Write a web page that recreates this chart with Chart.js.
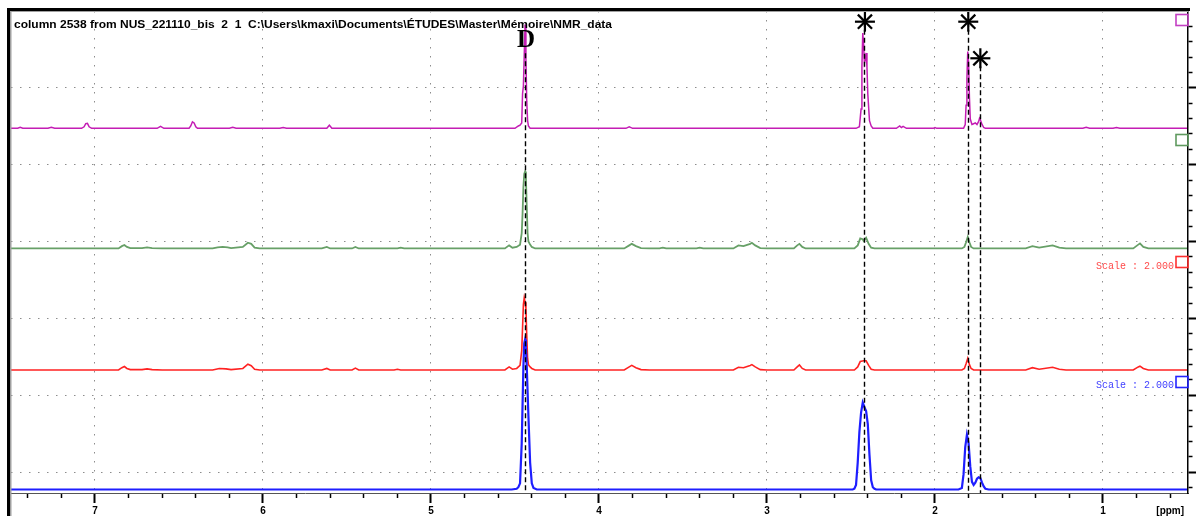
<!DOCTYPE html>
<html>
<head>
<meta charset="utf-8">
<script src="https://cdn.jsdelivr.net/npm/chart.js@4.4.1/dist/chart.umd.min.js"></script>
<style>
  html, body { margin: 0; padding: 0; background: #fff; }
  canvas { display: block; }
</style>
</head>
<body>
<canvas id="c" width="1201" height="516"></canvas>
<script>
// ---------------- DATA ----------------
const titleText = 'column 2538 from NUS_221110_bis  2  1  C:\\Users\\kmaxi\\Documents\\ÉTUDES\\Master\\Mémoire\\NMR_data';

// x ticks (ppm): majors are integers, minors every 0.2
const xMajorTicks = [7, 6, 5, 4, 3, 2, 1];
const xTicks = [7.4, 7.2, 7.0, 6.8, 6.6, 6.4, 6.2, 6.0, 5.8, 5.6, 5.4, 5.2, 5.0, 4.8, 4.6, 4.4, 4.2, 4.0,
  3.8, 3.6, 3.4, 3.2, 3.0, 2.8, 2.6, 2.4, 2.2, 2.0, 1.8, 1.6, 1.4, 1.2, 1.0, 0.8, 0.6];
const xUnitLabel = '[ppm]';
const xUnitTick = 0.6;

// y (stack) ticks: majors are integers, minors every 0.2
const yTicks = [-0.2, 0, 0.2, 0.4, 0.6, 0.8, 1, 1.2, 1.4, 1.6, 1.8, 2, 2.2, 2.4, 2.6, 2.8, 3, 3.2, 3.4, 3.6, 3.8,
  4, 4.2, 4.4, 4.6, 4.8, 5, 5.2, 5.4, 5.6, 5.8];

// trace baselines (vertical offsets of the stacked spectra)
const traceNames = ['blue', 'red', 'green', 'magenta'];
const traceOffsets = { magenta: 4.474, green: 2.911, red: 1.33, blue: -0.2245 };
const traceScaleText = { red: 'Scale : 2.000', blue: 'Scale : 2.000' };

// [ppm, intensity above baseline]
const magentaTrace = [
  [7.50,0],[7.46,0],[7.445,0.012],[7.43,0],[7.28,0],[7.26,0.012],[7.24,0],
  [7.08,0],[7.065,0.02],[7.055,0.06],[7.045,0.065],[7.035,0.02],[7.02,0],
  [6.63,0],[6.61,0.025],[6.59,0],
  [6.44,0],[6.43,0.03],[6.42,0.085],[6.41,0.07],[6.40,0.02],[6.39,0],
  [6.20,0],[6.18,0.012],[6.16,0],
  [5.90,0],[5.88,0.01],[5.86,0],
  [5.62,0],[5.605,0.04],[5.59,0],
  [4.50,0],[4.48,0.03],[4.47,0.04],[4.46,0.07],[4.455,0.45],[4.45,0.55],[4.445,0.95],[4.44,1.35],[4.435,0.9],[4.43,0.35],[4.425,0.1],[4.42,0.03],[4.41,0],
  [3.84,0],[3.82,0.02],[3.80,0],
  [2.47,0],[2.45,0.02],[2.44,0.25],[2.435,0.8],[2.43,1.24],[2.425,1.1],[2.42,0.85],[2.415,0.9],[2.41,0.98],[2.405,0.8],[2.40,0.45],[2.39,0.1],[2.38,0.03],[2.37,0],
  [2.23,0],[2.21,0.03],[2.20,0.01],[2.19,0.025],[2.17,0],
  [2.01,0],[2.00,0.01],[1.99,0],
  [1.83,0],[1.82,0.05],[1.815,0.3],[1.81,0.65],[1.805,1.0],[1.80,0.85],[1.795,0.4],[1.79,0.12],[1.78,0.05],[1.77,0.06],[1.76,0.07],[1.75,0.05],[1.74,0.09],[1.735,0.13],[1.73,0.11],[1.72,0.05],[1.71,0.01],[1.70,0],
  [1.12,0],[1.10,0.012],[1.08,0],
  [0.94,0],[0.92,0.01],[0.90,0],
  [0.50,0]
];
const greenTrace = [
  [7.50,0],[6.86,0],[6.84,0.03],[6.825,0.045],[6.81,0.02],[6.79,0.005],[6.72,0.005],[6.69,0.015],[6.66,0.005],[6.60,0],
  [6.30,0],[6.27,0.015],[6.24,0.02],[6.21,0.015],[6.19,0.005],[6.12,0.02],[6.09,0.075],[6.07,0.06],[6.05,0.01],[6.02,0],
  [5.65,0],[5.62,0.02],[5.60,0],[5.47,0],[5.45,0.02],[5.43,0],[5.20,0],[5.18,0.01],[5.16,0],
  [4.56,0],[4.535,0.04],[4.515,0.01],[4.49,0.02],[4.47,0.05],[4.46,0.2],[4.455,0.45],[4.45,0.8],[4.445,0.97],[4.44,1.0],[4.435,0.92],[4.43,0.55],[4.425,0.2],[4.42,0.09],[4.41,0.05],[4.40,0.02],[4.38,0],
  [3.85,0],[3.82,0.04],[3.805,0.06],[3.78,0.03],[3.75,0.005],[3.70,0],
  [3.64,0],[3.62,0.01],[3.60,0],[3.42,0],[3.40,0.01],[3.38,0],
  [3.20,0],[3.17,0.04],[3.14,0.03],[3.10,0.06],[3.09,0.074],[3.07,0.04],[3.04,0.005],[3.00,0],
  [2.84,0],[2.82,0.04],[2.807,0.06],[2.79,0.02],[2.77,0],
  [2.48,0],[2.46,0.04],[2.445,0.13],[2.43,0.12],[2.425,0.1],[2.41,0.14],[2.395,0.06],[2.38,0.01],[2.36,0],
  [1.84,0],[1.825,0.02],[1.815,0.08],[1.805,0.15],[1.795,0.08],[1.785,0.02],[1.77,0],
  [1.46,0],[1.42,0.03],[1.38,0.01],[1.30,0.04],[1.26,0.01],[1.22,0],
  [0.82,0],[0.79,0.05],[0.78,0.065],[0.76,0.02],[0.73,0],
  [0.50,0]
];
const redTrace = [
  [7.50,0],[6.86,0],[6.84,0.03],[6.825,0.045],[6.81,0.02],[6.79,0.005],[6.72,0.005],[6.69,0.015],[6.66,0.005],[6.60,0],
  [6.30,0],[6.26,0.02],[6.22,0.015],[6.19,0.005],[6.12,0.02],[6.09,0.075],[6.07,0.055],[6.05,0.01],[6.02,0],
  [5.65,0],[5.62,0.02],[5.60,0],[5.47,0],[5.45,0.025],[5.43,0],[5.22,0],[5.20,0.01],[5.18,0],
  [4.56,0],[4.535,0.04],[4.515,0.01],[4.49,0.02],[4.47,0.06],[4.46,0.25],[4.455,0.55],[4.45,0.85],[4.445,0.94],[4.44,0.88],[4.435,0.8],[4.43,0.45],[4.425,0.15],[4.42,0.07],[4.41,0.04],[4.40,0.02],[4.38,0],
  [3.85,0],[3.82,0.04],[3.805,0.06],[3.78,0.03],[3.75,0.005],[3.70,0],
  [3.20,0],[3.17,0.035],[3.14,0.03],[3.10,0.06],[3.09,0.07],[3.07,0.04],[3.04,0.005],[3.00,0],
  [2.84,0],[2.82,0.04],[2.807,0.065],[2.79,0.02],[2.77,0],
  [2.48,0],[2.46,0.04],[2.445,0.11],[2.425,0.12],[2.41,0.12],[2.395,0.06],[2.38,0.01],[2.36,0],
  [1.84,0],[1.825,0.02],[1.815,0.08],[1.805,0.15],[1.795,0.07],[1.785,0.02],[1.77,0],
  [1.46,0],[1.42,0.03],[1.38,0.01],[1.30,0.035],[1.26,0.01],[1.22,0],
  [0.82,0],[0.79,0.04],[0.78,0.05],[0.76,0.02],[0.73,0],
  [0.50,0]
];
const blueTrace = [
  [7.50,0],[4.52,0],[4.49,0.01],[4.48,0.03],[4.47,0.08],[4.46,0.6],[4.45,1.6],[4.445,1.9],[4.44,1.95],[4.435,1.85],[4.43,1.6],[4.42,0.95],[4.41,0.35],[4.40,0.08],[4.39,0.02],[4.37,0],
  [2.49,0],[2.48,0.01],[2.47,0.06],[2.46,0.35],[2.45,0.75],[2.44,1.0],[2.43,1.13],[2.42,1.07],[2.41,1.02],[2.40,0.85],[2.39,0.45],[2.38,0.12],[2.37,0.03],[2.36,0.01],[2.35,0],
  [1.86,0],[1.84,0.02],[1.83,0.2],[1.82,0.55],[1.81,0.71],[1.80,0.6],[1.79,0.3],[1.78,0.1],[1.77,0.06],[1.76,0.09],[1.75,0.14],[1.74,0.16],[1.73,0.15],[1.72,0.09],[1.71,0.04],[1.70,0.01],[1.68,0],
  [0.50,0]
];
const traces = { magenta: magentaTrace, green: greenTrace, red: redTrace, blue: blueTrace };

// annotations: dashed reference lines, labels
const markerLines = [
  { ppm: 4.44, top: 5.45 },
  { ppm: 2.422, top: 5.86 },
  { ppm: 1.805, top: 5.86 },
  { ppm: 1.735, top: 5.385 }
];
const letterLabels = [{ text: 'D', ppm: 4.435, y: 5.61 }];
const starMarks = [
  { ppm: 2.417, y: 5.861 },
  { ppm: 1.802, y: 5.861 },
  { ppm: 1.730, y: 5.385 }
];

// ---------------- STYLES ----------------
const traceColors = { magenta: '#c41db4', green: '#67a067', red: '#ff2222', blue: '#1e1eff' };
const traceWidths = { magenta: 1.5, green: 1.8, red: 1.6, blue: 2.2 };
const boxColors = { magenta: '#c33fc3', green: '#5f9a5f', red: '#ff3030', blue: '#2424ff' };
const scaleTextColors = { red: '#ff4a4a', blue: '#4040ff' };
const titleWidth = 598;

const isMajor = v => Math.abs(v - Math.round(v)) < 1e-6;

const deco = {
  id: 'deco',
  afterDatasetsDraw(chart) {
    const { ctx, scales: { x, y } } = chart;
    ctx.save();
    ctx.strokeStyle = '#000';
    ctx.lineWidth = 1.4;
    ctx.setLineDash([5, 3]);
    markerLines.forEach(m => {
      const px = Math.round(x.getPixelForValue(m.ppm)) + 0.5;
      ctx.beginPath();
      ctx.moveTo(px, y.getPixelForValue(m.top));
      ctx.lineTo(px, y.bottom);
      ctx.stroke();
    });
    ctx.setLineDash([]);
    // letters
    ctx.fillStyle = '#000';
    ctx.font = 'bold 25px "Liberation Serif", "DejaVu Serif", serif';
    ctx.textAlign = 'center';
    ctx.textBaseline = 'middle';
    letterLabels.forEach(l => {
      ctx.fillText(l.text, x.getPixelForValue(l.ppm), y.getPixelForValue(l.y));
    });
    // stars
    ctx.lineWidth = 2.2;
    ctx.lineCap = 'butt';
    starMarks.forEach(s => {
      const cx = x.getPixelForValue(s.ppm), cy = y.getPixelForValue(s.y);
      const r = 10;
      for (let k = 0; k < 4; k++) {
        const a = k * Math.PI / 4;
        ctx.beginPath();
        ctx.moveTo(cx - r * Math.cos(a), cy - r * Math.sin(a));
        ctx.lineTo(cx + r * Math.cos(a), cy + r * Math.sin(a));
        ctx.stroke();
      }
    });
    ctx.restore();
  },
  afterDraw(chart) {
    const { ctx, chartArea: ca, scales: { y } } = chart;
    ctx.save();
    // frame
    ctx.fillStyle = '#000';
    ctx.fillRect(7, 8, ca.right + 2 - 7, 3);
    ctx.fillRect(7, 8, 3, 516 - 8);
    ctx.fillStyle = '#a0a0a0';
    ctx.fillRect(10, 11, ca.right - 10, 1);
    ctx.fillRect(10, 11, 1.5, 516 - 11);
    // title (stretched to the width seen in the reference)
    ctx.fillStyle = '#000';
    ctx.font = 'bold 11px "Liberation Sans", Arial, sans-serif';
    ctx.textAlign = 'left';
    ctx.textBaseline = 'alphabetic';
    const w = ctx.measureText(titleText).width;
    ctx.save();
    ctx.translate(14, 28);
    ctx.scale(titleWidth / w, 1);
    ctx.fillText(titleText, 0, 0);
    ctx.restore();
    // boxes and scale labels
    traceNames.forEach(n => {
      const base = y.getPixelForValue(traceOffsets[n]);
      ctx.strokeStyle = boxColors[n];
      ctx.lineWidth = 1.6;
      ctx.strokeRect(ca.right - 12, Math.round(base - 114) + 0.5, 12, 11);
      if (traceScaleText[n]) {
        ctx.fillStyle = scaleTextColors[n];
        ctx.font = '10px "Liberation Mono", "DejaVu Sans Mono", monospace';
        ctx.textAlign = 'right';
        ctx.textBaseline = 'middle';
        ctx.fillText(traceScaleText[n], ca.right - 14, base - 104);
      }
    });
    ctx.restore();
  }
};

const datasets = traceNames.map(n => ({
  label: n,
  data: traces[n].map(([p, v]) => ({ x: p, y: traceOffsets[n] + v })),
  borderColor: traceColors[n],
  borderWidth: traceWidths[n],
  pointRadius: 0,
  tension: 0,
  fill: false
}));

new Chart(document.getElementById('c'), {
  type: 'line',
  data: { datasets },
  plugins: [deco],
  options: {
    responsive: false,
    animation: false,
    devicePixelRatio: 1,
    parsing: true,
    layout: { padding: { left: 11, top: 11, right: 0, bottom: 0 } },
    plugins: { legend: { display: false }, tooltip: { enabled: false }, title: { display: false } },
    scales: {
      x: {
        type: 'linear', reverse: true, min: 0.494, max: 7.5, position: 'bottom',
        afterBuildTicks: s => { s.ticks = xTicks.map(v => ({ value: v })); },
        afterFit: s => { s.height = 23; },
        grid: {
          display: true, drawOnChartArea: true, drawTicks: true,
          color: c => (c.tick && isMajor(c.tick.value)) ? '#8c8c8c' : 'rgba(0,0,0,0)',
          lineWidth: 1,
          tickLength: 10,
          tickColor: '#000',
          tickWidth: c => (c.tick && isMajor(c.tick.value)) ? 2 : 1.5,
          tickBorderDash: c => (c.tick && isMajor(c.tick.value)) ? [] : [4, 30]
        },
        border: { display: true, color: '#555', width: 1, dash: [1.5, 7.5] },
        ticks: {
          autoSkip: false, maxRotation: 0, padding: 2, color: '#000',
          font: { family: '"Liberation Sans", Arial, sans-serif', weight: 'bold', size: 10 },
          callback: v => isMajor(v) ? String(Math.round(v)) : (Math.abs(v - xUnitTick) < 1e-6 ? xUnitLabel : '')
        }
      },
      y: {
        type: 'linear', min: -0.27, max: 6.0, position: 'right',
        afterBuildTicks: s => { s.ticks = yTicks.map(v => ({ value: v })); },
        afterFit: s => { s.width = 13; },
        grid: {
          display: true, drawOnChartArea: true, drawTicks: true,
          color: c => (c.tick && isMajor(c.tick.value)) ? '#8c8c8c' : 'rgba(0,0,0,0)',
          lineWidth: 1,
          tickLength: 8,
          tickColor: '#000',
          tickWidth: c => (c.tick && isMajor(c.tick.value)) ? 2 : 1.5,
          tickBorderDash: c => (c.tick && isMajor(c.tick.value)) ? [] : [4, 30]
        },
        border: { display: true, color: '#000', width: 1.5, dash: [1.5, 7.5] },
        ticks: { display: false }
      }
    }
  }
});
</script>
</body>
</html>
